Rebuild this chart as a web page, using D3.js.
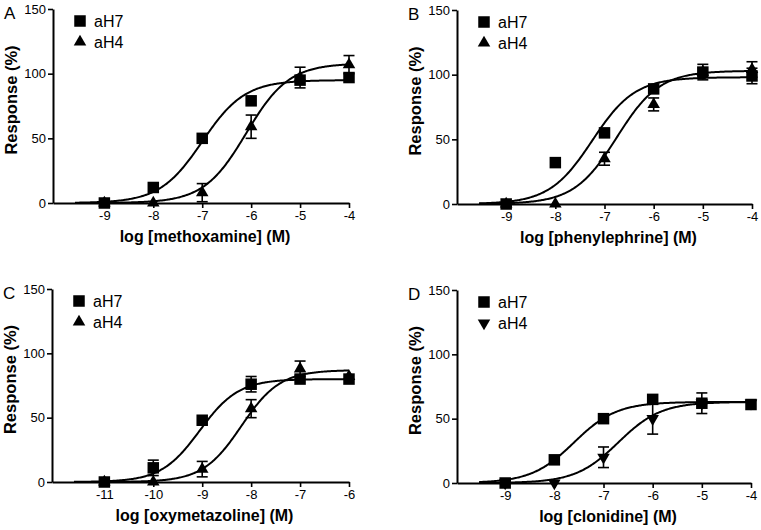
<!DOCTYPE html>
<html><head><meta charset="utf-8">
<script src="https://cdn.jsdelivr.net/npm/d3@7"></script>
<style>body{margin:0;background:#fff}svg{display:block}text{font-family:"Liberation Sans",Arial,sans-serif;fill:#000}</style>
</head><body>
<svg id="c" width="761" height="530"></svg>
<script>
// ---- data ----
const panelLetters = ["A","B","C","D"];
const drugTitles = ["log [methoxamine] (M)","log [phenylephrine] (M)","log [oxymetazoline] (M)","log [clonidine] (M)"];
const xMins = [-10.05, -10, -12.07, -9.98];
const xMaxs = [-4, -4, -6, -4];
const yTicks = [0, 50, 100, 150];
const seriesNames = ["aH7","aH4"];
const h4Shapes = ["up","up","up","down"];

// log concentration arrays
const concA = [-9,-8,-7,-6,-5,-4];
const concB = [-9,-8,-7,-6,-5,-4];
const concC = [-11,-10,-9,-8,-7,-6];
const concD = [-9,-8,-7,-6,-5,-4];

// responses (%)
const aH7_A = [0, 12, 50, 79, 95, 97];
const aH4_A = [0, 0, 8, 59, 97, 107];
const aH7_B = [0, 32, 55, 89, 102, 99];
const aH4_B = [0, 0, 35, 77, 102, 104];
const aH7_C = [0, 11, 48, 76, 80, 80];
const aH4_C = [0, 0, 10, 57, 88, 82];
const aH7_D = [0, 18, 50, 65, 62, 61];
const aH4_D = [0, 0, 20, 50, 62, 62];

// SEM (%)
const aH7_A_err = [0, 0, 0, 0, 0, 0];
const aH4_A_err = [0, 0, 7, 9, 8, 7];
const aH7_B_err = [0, 0, 0, 0, 6, 6];
const aH4_B_err = [0, 0, 5, 5, 0, 6];
const aH7_C_err = [0, 6, 0, 6, 0, 0];
const aH4_C_err = [0, 0, 6, 7, 6, 0];
const aH7_D_err = [0, 0, 0, 0, 8, 0];
const aH4_D_err = [0, 0, 8, 12, 0, 0];

// sigmoid fit parameters [top, logEC50, hill]
const fitH7 = [[95, -7.0, 1.0], [98, -7.25, 1.0], [80, -9.05, 1.1], [63, -7.6, 1.0]];
const fitH4 = [[108, -6.1, 1.0], [103, -6.75, 1.0], [87, -8.2, 1.1], [63, -6.7, 1.0]];

// ---- layout ----
const boxes = [
  {l:53, t:9, b:203, r:349},
  {l:457, t:10, b:204, r:752},
  {l:52, t:289, b:482, r:349},
  {l:457, t:290, b:483, r:751}
];
const concs = [concA, concB, concC, concD];
const h7 = [aH7_A, aH7_B, aH7_C, aH7_D];
const h4 = [aH4_A, aH4_B, aH4_C, aH4_D];
const h7e = [aH7_A_err, aH7_B_err, aH7_C_err, aH7_D_err];
const h4e = [aH4_A_err, aH4_B_err, aH4_C_err, aH4_D_err];

const svg = d3.select("#c");

function hill(p, x){ return p[0] / (1 + Math.pow(10, (p[1]-x)*p[2])); }

function marker(g, shape, x, y){
  if (shape === "square") {
    g.append("rect").attr("x", x-5.75).attr("y", y-5.75).attr("width", 11.5).attr("height", 11.5).attr("fill","#000");
  } else {
    const sym = d3.symbol().type(d3.symbolTriangle).size(68);
    g.append("path").attr("d", sym())
      .attr("transform", `translate(${x},${y})` + (shape==="down" ? " rotate(180)" : ""))
      .attr("fill","#000");
  }
}

boxes.forEach((bx, i) => {
  const x = d3.scaleLinear().domain([xMins[i], xMaxs[i]]).range([bx.l, bx.r]);
  const y = d3.scaleLinear().domain([0, 150]).range([bx.b, bx.t]);
  const g = svg.append("g");

  // axes
  const xTickVals = d3.range(Math.ceil(xMins[i]+0.5), xMaxs[i]+0.01, 1);
  const xa = g.append("g").attr("transform", `translate(0,${bx.b})`)
    .call(d3.axisBottom(x).tickValues(xTickVals).tickSize(5).tickSizeOuter(0).tickFormat(d => "-" + Math.abs(d)));
  xa.select(".domain").attr("stroke-width", 2).attr("stroke","#000");
  xa.selectAll(".tick line").attr("stroke-width", 1.6).attr("stroke","#000");
  xa.selectAll(".tick text").attr("font-size", 13).attr("dy", "0.75em").attr("y", 7);

  const ya = g.append("g").attr("transform", `translate(${bx.l},0)`)
    .call(d3.axisLeft(y).tickValues(yTicks).tickSize(5).tickSizeOuter(0));
  ya.select(".domain").attr("stroke-width", 2).attr("stroke","#000");
  ya.selectAll(".tick line").attr("stroke-width", 1.6).attr("stroke","#000");
  ya.selectAll(".tick text").attr("font-size", 13).attr("x", -7);

  // titles
  g.append("text").attr("x", (bx.l + bx.r)/2 + 4).attr("y", bx.b + 39)
    .attr("text-anchor","middle").attr("font-size", 16).attr("font-weight","bold").text(drugTitles[i]);
  g.append("text").attr("transform", `translate(${bx.l - 36},${(bx.t + bx.b)/2 - 6}) rotate(-90)`)
    .attr("text-anchor","middle").attr("font-size", 16.5).attr("font-weight","bold").text("Response (%)");
  g.append("text").attr("x", bx.l - 49).attr("y", bx.t + 10).attr("font-size", 17).text(panelLetters[i]);

  // legend
  const lg = g.append("g");
  marker(lg, "square", bx.l + 27, bx.t + 12);
  marker(lg, h4Shapes[i] === "up" ? "tri" : "down", bx.l + 27, bx.t + 33);
  lg.append("text").attr("x", bx.l + 41).attr("y", bx.t + 18).attr("font-size", 16).text(seriesNames[0]);
  lg.append("text").attr("x", bx.l + 41).attr("y", bx.t + 39).attr("font-size", 16).text(seriesNames[1]);

  // curves
  const xs = d3.range(xMins[i] + 0.45, xMaxs[i] + 0.001, 0.02);
  const line = d3.line().x(d => x(d[0])).y(d => y(d[1])).curve(d3.curveLinear);
  [fitH7[i], fitH4[i]].forEach(p => {
    g.append("path").attr("d", line(xs.map(v => [v, hill(p, v)])))
      .attr("fill","none").attr("stroke","#000").attr("stroke-width", 2);
  });

  // error bars
  const drawErr = (vals, errs) => {
    concs[i].forEach((c, k) => {
      const e = errs[k]; if (!e) return;
      const cx = x(c), y1 = y(vals[k] - e), y2 = y(vals[k] + e);
      g.append("line").attr("x1", cx).attr("x2", cx).attr("y1", y1).attr("y2", y2).attr("stroke","#000").attr("stroke-width", 1.6);
      [y1, y2].forEach(yy => g.append("line").attr("x1", cx-5.5).attr("x2", cx+5.5).attr("y1", yy).attr("y2", yy).attr("stroke","#000").attr("stroke-width", 1.6));
    });
  };
  drawErr(h4[i], h4e[i]);
  drawErr(h7[i], h7e[i]);

  // points
  concs[i].forEach((c, k) => marker(g, h4Shapes[i] === "up" ? "tri" : "down", x(c), y(h4[i][k])));
  concs[i].forEach((c, k) => marker(g, "square", x(c), y(h7[i][k])));
});
</script>
</body></html>
